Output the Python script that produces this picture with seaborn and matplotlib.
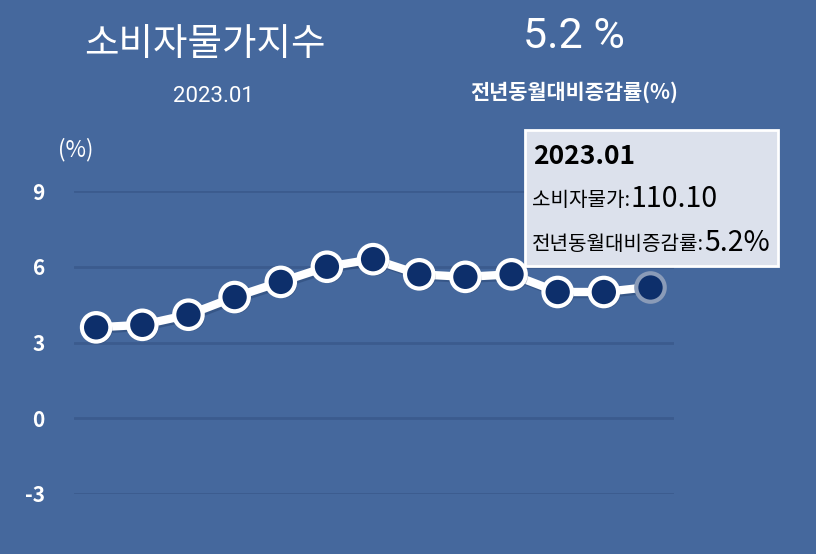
"""
CPI year-over-year change chart (2022.01 - 2023.01)
"""

import matplotlib
matplotlib.use('Agg')
import matplotlib.pyplot as plt
import matplotlib.patheffects as pe
from matplotlib.patches import FancyBboxPatch
from matplotlib.text import Annotation
import seaborn as sns
import pandas as pd

# Data
months = ['2022.01', '2022.02', '2022.03', '2022.04', '2022.05', '2022.06', '2022.07',
          '2022.08', '2022.09', '2022.10', '2022.11', '2022.12', '2023.01']
yoy_rate = [3.6, 3.7, 4.1, 4.8, 5.4, 6.0, 6.3, 5.7, 5.6, 5.7, 5.0, 5.0, 5.2]
y_ticks = [-3, 0, 3, 6, 9]

latest_month = '2023.01'
latest_index = 110.10
latest_rate = 5.2

BG = '#45689d'
GRID = '#3b5b8e'
DOT = '#0d2f6b'

sns.set_theme(style='white')
plt.rcParams['font.family'] = ['Noto Sans CJK KR', 'DejaVu Sans']

df = pd.DataFrame({'month': months, 'rate': yoy_rate})
df['pos'] = range(len(df))

fig = plt.figure(figsize=(8.16, 5.54), dpi=100, facecolor=BG)
ax = fig.add_axes([74 / 816, 60 / 554, 600 / 816, 303 / 554])
ax.set_facecolor(BG)

# Gridlines
for t in y_ticks:
    ax.axhline(t, color=GRID, linewidth=2, zorder=1)

# Line with a soft shadow
sns.lineplot(data=df, x='pos', y='rate', color='white', linewidth=6, ax=ax, zorder=3,
             path_effects=[pe.SimpleLineShadow(offset=(1.5, -1.5), shadow_color='#1c3560', alpha=0.35),
                           pe.Normal()])

# Markers (last one highlighted as hovered)
sns.scatterplot(data=df.iloc[:-1], x='pos', y='rate', s=420, color=DOT, edgecolor='white',
                linewidth=3, ax=ax, zorder=4, clip_on=False,
                path_effects=[pe.SimplePatchShadow(offset=(1.5, -1.5), shadow_rgbFace='#1c3560', alpha=0.35),
                              pe.Normal()])
sns.scatterplot(data=df.iloc[-1:], x='pos', y='rate', s=420, color=DOT, edgecolor='#8a9bb8',
                linewidth=3, ax=ax, zorder=4, clip_on=False)

ax.set_xlim(-0.48, 12.52)
ax.set_ylim(-3, 9)
ax.set_yticks(y_ticks)
ax.set_yticklabels([str(t) for t in y_ticks], color='white', fontsize=15, fontweight='bold')
ax.tick_params(axis='y', length=0, pad=21)
ax.set_xticks([])
ax.set_xlabel('')
ax.set_ylabel('')
for s in ax.spines.values():
    s.set_visible(False)

# Header texts
fig.text(205 / 816, 1 - 44 / 554, '소비자물가지수', color='white', fontsize=27,
         ha='center', va='center')
fig.text(213 / 816, 1 - 97 / 554, latest_month, color='white', fontsize=16,
         ha='center', va='center', family=['Roboto', 'DejaVu Sans'])
fig.text(574 / 816, 1 - 36 / 554, f'{latest_rate} %', color='white', fontsize=31,
         ha='center', va='center', family=['Roboto', 'DejaVu Sans'])
fig.text(574 / 816, 1 - 92 / 554, '전년동월대비증감률(%)', color='white', fontsize=15,
         ha='center', va='center', fontweight='bold')
fig.text(76 / 816, 1 - 150 / 554, '(%)', color='white', fontsize=16,
         ha='center', va='center')

# Tooltip
box = FancyBboxPatch((525 / 816, 1 - 266 / 554), 253 / 816, 136 / 554,
                     boxstyle='square,pad=0', transform=fig.transFigure,
                     facecolor='#dce1ec', edgecolor='white', linewidth=2, zorder=10)
fig.patches.append(box)
fig.text(533 / 816, 1 - 156 / 554, latest_month, color='black', fontsize=19,
         fontweight='bold', ha='left', va='center', zorder=11)
lab1 = fig.text(532 / 816, 1 - 200 / 554, '소비자물가:', color='black', fontsize=14.5,
                ha='left', va='center', zorder=11)
fig.add_artist(Annotation(f'{latest_index:.2f}', xy=(1, 0.5), xycoords=lab1, xytext=(0, 1),
                          textcoords='offset points', fontsize=20.5, color='black',
                          ha='left', va='center', zorder=11))
lab2 = fig.text(532 / 816, 1 - 244 / 554, '전년동월대비증감률:', color='black', fontsize=14.5,
                ha='left', va='center', zorder=11)
fig.add_artist(Annotation(f'{latest_rate}%', xy=(1, 0.5), xycoords=lab2, xytext=(0, 1),
                          textcoords='offset points', fontsize=20.5, color='black',
                          ha='left', va='center', zorder=11))

plt.savefig('out.png', dpi=100, facecolor=BG)
